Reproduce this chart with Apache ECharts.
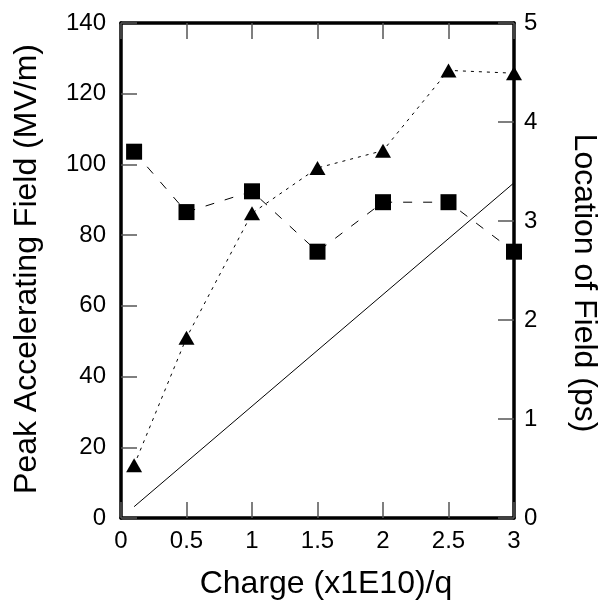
<!DOCTYPE html>
<html>
<head>
<meta charset="utf-8">
<script src="https://cdn.jsdelivr.net/npm/echarts@6/dist/echarts.min.js"></script>
<style>html,body{margin:0;padding:0;background:#fff;}#c{width:602px;height:602px;}</style>
</head>
<body>
<div id="c"></div>
<script>
var charge = [0.1, 0.5, 1, 1.5, 2, 2.5, 3];
var peakField = [14.9, 51, 86.2, 99, 103.9, 126.6, 125.8];       // triangles, left axis (MV/m)
var fieldLocation = [3.70, 3.09, 3.30, 2.69, 3.19, 3.19, 2.69];  // squares, right axis (ps)
var fitX = [0.1, 3];
var fitY = [3.2, 94.8];
var xTicks = ['0', '0.5', '1', '1.5', '2', '2.5', '3'];
var leftTitle = 'Peak Accelerating Field (MV/m)';
var rightTitle = 'Location of Field (ps)';
var xTitle = 'Charge (x1E10)/q';

var FONT = 'Liberation Sans, Arial, sans-serif';
var chart = echarts.init(document.getElementById('c'));

function pairs(xs, ys) { return xs.map(function (x, i) { return [x, ys[i]]; }); }
function mkLine() { return { show: true, onZero: false, lineStyle: { color: '#000', width: 3.5, opacity: 1 } }; }
function mkTick() { return { show: true, inside: true, length: 16, lineStyle: { color: '#555', width: 1.5, opacity: 1 } }; }

chart.setOption({
  animation: false,
  grid: { left: 121, right: 88, top: 23, bottom: 84, containLabel: false },
  xAxis: [{
    type: 'value', min: 0, max: 3, interval: 0.5, position: 'bottom', z: 10,
    axisLine: mkLine(), axisTick: mkTick(), splitLine: { show: false },
    axisLabel: { fontFamily: FONT, fontSize: 24, color: '#000', margin: 11,
      formatter: function (v) { return xTicks[Math.round(v / 0.5)]; } }
  }, {
    type: 'value', min: 0, max: 3, interval: 0.5, position: 'top', z: 10,
    axisLine: mkLine(), axisTick: mkTick(), splitLine: { show: false },
    axisLabel: { show: false }
  }],
  yAxis: [{
    type: 'value', min: 0, max: 140, interval: 20, position: 'left', z: 10,
    axisLine: mkLine(), axisTick: mkTick(), splitLine: { show: false },
    axisLabel: { fontFamily: FONT, fontSize: 24, color: '#000', margin: 15 }
  }, {
    type: 'value', min: 0, max: 5, interval: 1, position: 'right', z: 10,
    axisLine: mkLine(), axisTick: mkTick(), splitLine: { show: false },
    axisLabel: { fontFamily: FONT, fontSize: 24, color: '#000', margin: 10 }
  }],
  series: [{
    type: 'line', xAxisIndex: 0, yAxisIndex: 0, data: pairs(fitX, fitY),
    showSymbol: false, symbol: 'none', lineStyle: { color: '#000', width: 1 }, z: 2
  }, {
    type: 'line', xAxisIndex: 0, yAxisIndex: 1, data: pairs(charge, fieldLocation),
    symbol: 'rect', symbolSize: 16, clip: false,
    itemStyle: { color: '#000' },
    lineStyle: { color: '#000', width: 1, type: [9, 11] }, z: 3
  }, {
    type: 'line', xAxisIndex: 0, yAxisIndex: 0, data: pairs(charge, peakField),
    symbol: 'triangle', symbolSize: [16, 14], clip: false,
    itemStyle: { color: '#000' },
    lineStyle: { color: '#000', width: 1, type: [3, 5] }, z: 3
  }],
  graphic: [{
    type: 'text', x: 326, y: 584,
    style: { text: xTitle, font: '32px ' + FONT, fill: '#000', textAlign: 'center', textVerticalAlign: 'middle' }
  }, {
    type: 'text', x: 27, y: 269, rotation: Math.PI / 2,
    style: { text: leftTitle, font: '32px ' + FONT, fill: '#000', textAlign: 'center', textVerticalAlign: 'middle' }
  }, {
    type: 'text', x: 584, y: 283, rotation: -Math.PI / 2,
    style: { text: rightTitle, font: '32px ' + FONT, fill: '#000', textAlign: 'center', textVerticalAlign: 'middle' }
  }]
});
</script>
</body>
</html>
